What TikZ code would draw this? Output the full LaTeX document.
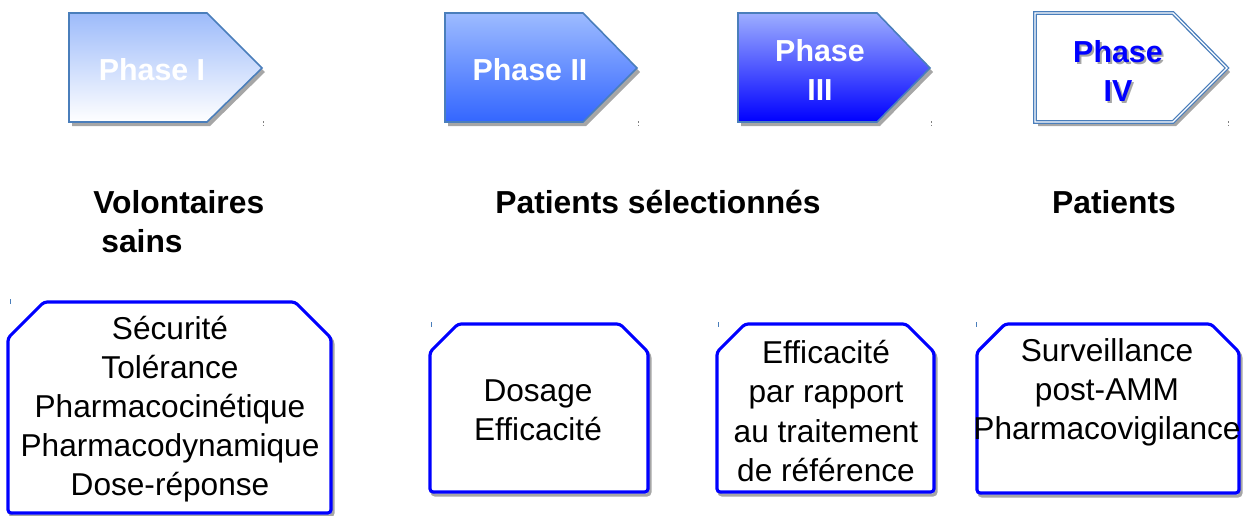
\documentclass[tikz,border=0pt]{standalone}
\usepackage{fontspec}
\setmainfont{Liberation Sans}
\definecolor{arrowborder}{HTML}{4A7EBB}
\definecolor{shadowgray}{HTML}{A6A6A6}
\definecolor{boxblue}{HTML}{0000FF}
\definecolor{pOneTop}{HTML}{9DBBFA}
\definecolor{pTwoTop}{HTML}{9DBBFF}
\definecolor{pTwoBot}{HTML}{3366FF}
\definecolor{pThreeTop}{HTML}{9DAEFF}
\definecolor{pThreeBot}{HTML}{0000FF}
\newcommand{\arrowpath}[3]{(#1,13) -- (#2,13) -- (#3,68) -- (#2,122) -- (#1,122) -- cycle}
\newcommand{\boxpath}[5]{(#1,#3+#5) -- (#1+#5,#3) -- (#2-#5,#3) -- (#2,#3+#5) -- (#2,#4) -- (#1,#4) -- cycle}
\tikzset{
  arrowline/.style={draw=arrowborder, line width=0.9pt, line join=miter},
  arrowshadow/.style={fill=shadowgray},
  phasetext/.style={font=\bfseries\fontsize{17.3}{22.7}\selectfont, align=center, text=white, inner sep=0pt},
  grouplabel/.style={font=\bfseries\fontsize{18.1}{22.1}\selectfont, inner sep=0pt},
  boxline/.style={draw=boxblue, line width=1.8pt, rounded corners=1.8pt},
  boxshadow/.style={draw=shadowgray, line width=1.8pt, rounded corners=1.8pt},
  boxtext/.style={font=\fontsize{18}{22.3}\selectfont, align=center, inner sep=0pt},
  tinymark/.style={draw=arrowborder, line width=0.5pt},
}
\begin{document}
\begin{tikzpicture}[x=0.02cm, y=-0.02cm]
\useasboundingbox (0,0) rectangle (1249,515);
% ---- phase arrows: shadows
\begin{scope}[shift={(3,4)}]
  \fill[arrowshadow] \arrowpath{69}{207}{262};
  \fill[arrowshadow] \arrowpath{445}{583}{637};
  \fill[arrowshadow] \arrowpath{738}{877}{930};
  \fill[arrowshadow] \arrowpath{1035}{1173}{1227};
\end{scope}
% ---- phase arrows
\path[arrowline, top color=pOneTop, bottom color=white] \arrowpath{69}{207}{262};
\path[arrowline, top color=pTwoTop, bottom color=pTwoBot] \arrowpath{445}{583}{637};
\path[arrowline, top color=pThreeTop, bottom color=pThreeBot] \arrowpath{738}{877}{930};
\path[fill=white, draw=arrowborder, line width=2.2pt] \arrowpath{1035}{1173}{1227};
\path[draw=white, line width=0.7pt] \arrowpath{1035}{1173}{1227};
% ---- phase texts
\node[phasetext] (p1) at (152,70) {Phase I};
\node[phasetext] (p2) at (530,70) {Phase II};
\node[phasetext] (p3) at (820,70) {Phase\\III};
\node[phasetext, text=shadowgray] (p4s) at (1120,73) {Phase\\IV};
\node[phasetext, text=boxblue] (p4) at (1118,71) {Phase\\IV};
% ---- tiny marks
\foreach \mx in {263,638,931,1228}
  \draw[draw=gray, line width=0.4pt, dash pattern=on 1pt off 1pt] (\mx,121) -- (\mx,128);
\foreach \mx/\my in {10/299,431/322,718/322,976/322}
  \draw[tinymark] (\mx,\my) -- (\mx,\my+5);
% ---- group labels
\node[grouplabel, anchor=west] (g1) at (93,202) {Volontaires};
\node[grouplabel, anchor=west] (g1b) at (101,241) {sains};
\node[grouplabel] (g2) at (658,202) {Patients sélectionnés};
\node[grouplabel] (g3) at (1114,202) {Patients};
% ---- boxes: shadows
\begin{scope}[shift={(2,3)}]
  \draw[boxshadow] \boxpath{8}{331}{302}{513}{36};
  \draw[boxshadow] \boxpath{430}{648}{324}{492}{28};
  \draw[boxshadow] \boxpath{717}{934}{324}{492}{28};
  \draw[boxshadow] \boxpath{977}{1239}{324}{493}{28};
\end{scope}
\path[boxline, fill=white] \boxpath{8}{331}{302}{513}{36};
\path[boxline, fill=white] \boxpath{430}{648}{324}{492}{28};
\path[boxline, fill=white] \boxpath{717}{934}{324}{492}{28};
\path[boxline, fill=white] \boxpath{977}{1239}{324}{493}{28};
% ---- box texts
\node[boxtext] (b1) at (170,409) {Sécurité\\Tolérance\\Pharmacocinétique\\Pharmacodynamique\\Dose-réponse};
\node[boxtext] (b2) at (538,410) {Dosage\\Efficacité};
\node[boxtext] (b3) at (826,411) {Efficacité\\par rapport\\au traitement\\de référence};
\node[boxtext] (b4) at (1107,392) {Surveillance\\post-AMM\\Pharmacovigilance};
\end{tikzpicture}
\end{document}
